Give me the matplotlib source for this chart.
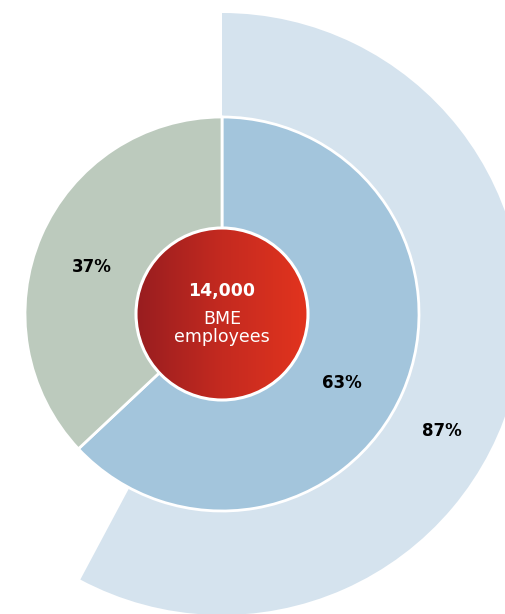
# BME employees donut - outer share wedge behind a two-slice pie
import numpy as np
import matplotlib.pyplot as plt
from matplotlib.patches import Circle
from matplotlib.colors import LinearSegmentedColormap

plt.rcParams['font.family'] = ['DejaVu Sans']

# data
total_label = "14,000"
center_text = "BME\nemployees"
mid_values = [63, 37]
mid_labels = ["63%", "37%"]
outer_values = [57.8, 42.2]   # arc share
outer_label = "87%"

outer_col = "#d5e3ee"
mid_cols = ["#a3c5dc", "#bccabd"]

W, H = 506, 614
cx, cy = 222, H - 314

fig = plt.figure(figsize=(W / 100, H / 100), dpi=100)
ax = fig.add_axes([0, 0, 1, 1])

# outer wedge
ax.pie(outer_values, colors=[outer_col, "none"], startangle=90, counterclock=False,
       radius=301, center=(cx, cy), wedgeprops=dict(linewidth=0))

# middle pie
ax.pie(mid_values, colors=mid_cols, startangle=90, counterclock=False,
       radius=197, center=(cx, cy), wedgeprops=dict(edgecolor="white", linewidth=2))

# centre circle with red gradient
r_in = 86
grad = np.linspace(0, 1, 256).reshape(1, -1)
cmap = LinearSegmentedColormap.from_list("red", ["#981d1f", "#c42a20", "#e2341e"])
im = ax.imshow(grad, cmap=cmap, extent=[cx - r_in, cx + r_in, cy - r_in, cy + r_in],
               aspect="auto", zorder=5)
clip = Circle((cx, cy), r_in, transform=ax.transData)
im.set_clip_path(clip)
ax.add_patch(Circle((cx, cy), r_in, facecolor="none", edgecolor="white", linewidth=2.2, zorder=6))

ax.text(cx, H - 291, total_label, ha="center", va="center", color="white",
        fontsize=12.5, fontweight="bold", zorder=7)
ax.text(cx, H - 328, center_text, ha="center", va="center", color="white",
        fontsize=12.5, linespacing=1.0, zorder=7)

# labels
ax.text(342, H - 383, mid_labels[0], ha="center", va="center", fontsize=12, fontweight="bold")
ax.text(92, H - 267, mid_labels[1], ha="center", va="center", fontsize=12, fontweight="bold")
ax.text(442, H - 431, outer_label, ha="center", va="center", fontsize=12, fontweight="bold")

ax.set_xlim(0, W)
ax.set_ylim(0, H)
ax.set_aspect("equal")
ax.axis("off")

fig.savefig("out.png", dpi=100, facecolor="white")
